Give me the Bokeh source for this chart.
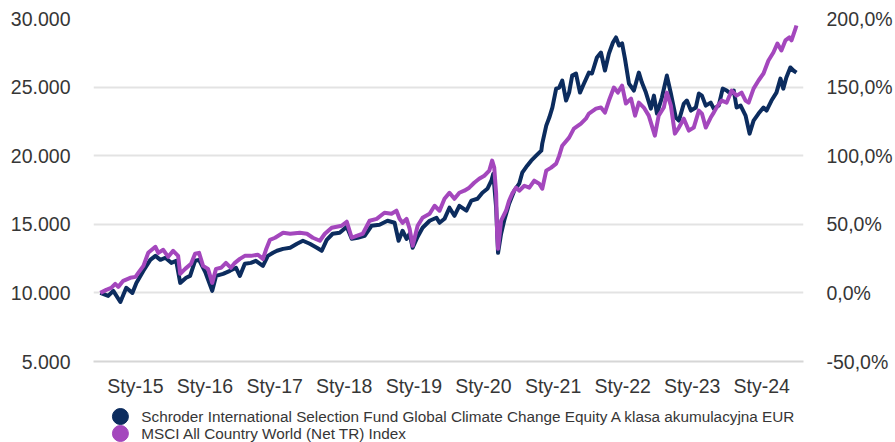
import pandas as pd
from bokeh.plotting import figure
from bokeh.layouts import column
from bokeh.models import Range1d, LinearAxis, FixedTicker
from bokeh.core.properties import value
from bokeh.embed import file_html
from bokeh.resources import INLINE

# ---------------- data ----------------
fund_name = "Schroder International Selection Fund Global Climate Change Equity A klasa akumulacyjna EUR"
index_name = "MSCI All Country World (Net TR) Index"

fund_dates = [
    "2014-07-01", "2014-08-11", "2014-09-07", "2014-10-14", "2014-11-14", "2014-12-16",
    "2015-01-06", "2015-02-12", "2015-03-20", "2015-04-16", "2015-05-12", "2015-06-07",
    "2015-07-08", "2015-08-03", "2015-08-24", "2015-09-24", "2015-10-15", "2015-11-10",
    "2015-12-01", "2016-01-02", "2016-02-08", "2016-02-28", "2016-04-05", "2016-05-11",
    "2016-06-12", "2016-07-02", "2016-07-28", "2016-08-29", "2016-09-24", "2016-10-31",
    "2016-11-26", "2016-12-23", "2017-01-13", "2017-02-14", "2017-03-23", "2017-04-28",
    "2017-05-29", "2017-07-04", "2017-08-10", "2017-09-05", "2017-10-01", "2017-11-01",
    "2017-12-08", "2018-01-14", "2018-02-09", "2018-03-12", "2018-04-18", "2018-05-24",
    "2018-07-05", "2018-08-16", "2018-09-22", "2018-10-13", "2018-11-03", "2018-11-24",
    "2018-12-10", "2018-12-26", "2019-01-21", "2019-02-16", "2019-03-25", "2019-04-30",
    "2019-05-16", "2019-06-11", "2019-07-07", "2019-08-02", "2019-08-28", "2019-10-04",
    "2019-10-30", "2019-12-01", "2019-12-27", "2020-01-22", "2020-02-12", "2020-02-22",
    "2020-03-08", "2020-03-18", "2020-04-03", "2020-04-19", "2020-05-15", "2020-06-11",
    "2020-07-07", "2020-07-23", "2020-08-18", "2020-09-08", "2020-10-04", "2020-10-31",
    "2020-11-05", "2020-11-26", "2020-12-12", "2020-12-28", "2021-01-17", "2021-02-02",
    "2021-02-18", "2021-03-10", "2021-03-26", "2021-04-11", "2021-05-01", "2021-05-22",
    "2021-06-12", "2021-07-08", "2021-07-24", "2021-08-19", "2021-09-09", "2021-09-30",
    "2021-10-21", "2021-11-11", "2021-11-27", "2021-12-13", "2021-12-29", "2022-01-13",
    "2022-02-03", "2022-03-01", "2022-03-27", "2022-04-12", "2022-05-03", "2022-05-29",
    "2022-06-14", "2022-06-30", "2022-07-26", "2022-08-21", "2022-09-11", "2022-10-07",
    "2022-10-23", "2022-11-18", "2022-12-04", "2022-12-25", "2023-01-20", "2023-02-05",
    "2023-02-21", "2023-03-13", "2023-04-08", "2023-04-24", "2023-05-20", "2023-06-10",
    "2023-07-01", "2023-07-22", "2023-08-07", "2023-08-22", "2023-09-12", "2023-10-08",
    "2023-10-29", "2023-11-19", "2023-12-15", "2024-01-10", "2024-01-26", "2024-02-21",
    "2024-03-18", "2024-04-08", "2024-04-23", "2024-05-09", "2024-05-30", "2024-06-15",
    "2024-07-01",
]
fund_values = [
    10000, 9780, 10150, 9340, 10370, 10000,
    10730, 11610, 12410, 12700, 12410, 12560,
    12190, 12340, 10730, 11100, 11240, 12340,
    12410, 11530, 10150, 11240, 11390, 11610,
    11830, 11240, 12120, 12190, 12340, 11970,
    12700, 12920, 13070, 13210, 13290, 13580,
    13800, 13580, 13290, 13070, 13870, 14310,
    14380, 14820, 13940, 14020, 14160, 14890,
    14970, 15260, 15110, 13800, 14530, 13940,
    14310, 13290, 14090, 14750, 15260, 15480,
    15110, 15400, 16210, 15620, 16350, 15990,
    16720, 16860, 17300, 17590, 18180, 18690,
    16210, 12920, 14310, 15260, 16500, 17450,
    17960, 18760, 19270, 19640, 20000, 20370,
    20880, 22190, 22780, 23510, 24890, 24970,
    25480, 24020, 24600, 25840, 25990, 24600,
    25260, 26060, 25990, 27160, 27520, 26210,
    27450, 28250, 28620, 28030, 28180, 27080,
    25260, 24750, 26060, 25330, 24600, 23430,
    24380, 23070, 24240, 25840, 24530, 22780,
    22560, 23800, 24020, 23290, 23510, 24530,
    24380, 23650, 23870, 23430, 23650, 24890,
    24750, 24530, 24750, 23510, 23650, 22920,
    21610, 22560, 23070, 23510, 23290, 24020,
    24600, 25620, 24890, 25700, 26430, 26210,
    26060,
]

index_dates = [
    "2014-07-01", "2014-08-01", "2014-08-27", "2014-09-17", "2014-10-03", "2014-10-29",
    "2014-12-05", "2015-01-01", "2015-01-16", "2015-02-12", "2015-03-09", "2015-04-16",
    "2015-05-01", "2015-05-27", "2015-06-22", "2015-07-18", "2015-08-13", "2015-08-24",
    "2015-09-19", "2015-10-20", "2015-11-10", "2015-12-01", "2015-12-22", "2016-01-17",
    "2016-02-08", "2016-02-28", "2016-03-25", "2016-04-20", "2016-05-16", "2016-06-06",
    "2016-07-02", "2016-07-28", "2016-08-29", "2016-10-05", "2016-10-31", "2016-11-16",
    "2016-12-07", "2017-01-03", "2017-02-14", "2017-03-23", "2017-05-13", "2017-06-19",
    "2017-07-20", "2017-08-26", "2017-09-21", "2017-10-27", "2017-11-22", "2017-12-18",
    "2018-01-14", "2018-02-09", "2018-03-07", "2018-04-08", "2018-05-14", "2018-06-20",
    "2018-07-31", "2018-09-06", "2018-10-02", "2018-10-18", "2018-11-03", "2018-11-24",
    "2018-12-10", "2018-12-26", "2019-01-21", "2019-02-16", "2019-03-25", "2019-04-20",
    "2019-05-16", "2019-06-11", "2019-07-07", "2019-08-02", "2019-08-28", "2019-09-23",
    "2019-10-19", "2019-11-14", "2019-12-10", "2020-01-06", "2020-02-01", "2020-02-16",
    "2020-02-27", "2020-03-08", "2020-03-13", "2020-03-18", "2020-04-03", "2020-04-29",
    "2020-05-15", "2020-05-31", "2020-06-21", "2020-07-07", "2020-08-03", "2020-08-29",
    "2020-09-24", "2020-10-20", "2020-11-05", "2020-11-26", "2020-12-22", "2021-01-17",
    "2021-02-02", "2021-02-18", "2021-03-26", "2021-04-20", "2021-05-27", "2021-06-22",
    "2021-07-08", "2021-08-14", "2021-09-09", "2021-09-30", "2021-10-21", "2021-11-16",
    "2021-12-07", "2021-12-29", "2022-01-18", "2022-02-14", "2022-03-07", "2022-03-27",
    "2022-04-22", "2022-05-18", "2022-06-19", "2022-07-09", "2022-08-05", "2022-08-21",
    "2022-09-11", "2022-10-02", "2022-10-23", "2022-11-18", "2022-12-14", "2023-01-09",
    "2023-02-05", "2023-02-21", "2023-03-13", "2023-04-08", "2023-04-24", "2023-05-15",
    "2023-06-05", "2023-07-01", "2023-07-27", "2023-08-22", "2023-09-17", "2023-10-08",
    "2023-10-24", "2023-11-19", "2023-12-15", "2024-01-10", "2024-02-05", "2024-03-02",
    "2024-03-23", "2024-04-13", "2024-05-04", "2024-05-25", "2024-06-05", "2024-06-26",
    "2024-07-01",
]
index_values = [
    10000, 10220, 10370, 10660, 10440, 10880,
    11100, 11170, 11460, 11970, 12920, 13360,
    12920, 13140, 12630, 13070, 12700, 11390,
    11750, 12120, 12850, 12920, 11970, 11750,
    10730, 11750, 11830, 12190, 11830, 12190,
    12480, 12700, 12700, 12780, 12480, 13140,
    13870, 14020, 14380, 14310, 14380, 14310,
    14020, 13800, 14310, 14750, 14820, 14890,
    15190, 14020, 14160, 14310, 15260, 15400,
    15840, 15770, 15990, 15400, 15110, 15400,
    14670, 13430, 14890, 15480, 15770, 16350,
    15990, 16860, 17300, 16860, 17300, 17450,
    17670, 18030, 18320, 18540, 18910, 19640,
    19130, 17230, 14310, 13210, 15260, 15990,
    16720, 17230, 17670, 17450, 17810, 17670,
    18180, 17960, 17590, 18910, 19130, 19420,
    20000, 20730, 21320, 21970, 22340, 22700,
    23070, 23430, 23510, 23140, 24020, 24970,
    24600, 25110, 23800, 24160, 22920, 23870,
    23510, 22920, 21460, 22920, 23510, 24600,
    23650, 21610, 22050, 22700, 21830, 22050,
    23290, 23070, 22050, 22780, 23140, 23650,
    24020, 23870, 24750, 24380, 24600, 24020,
    23870, 24890, 25480, 25990, 26940, 27520,
    28180, 27670, 28400, 28620, 28400, 29270,
    29490,
]

x_tick_dates = ["2015-01-01", "2016-01-01", "2017-01-01", "2018-01-01", "2019-01-01",
                "2020-01-01", "2021-01-01", "2022-01-01", "2023-01-01", "2024-01-01"]
x_tick_labels = ["Sty-15", "Sty-16", "Sty-17", "Sty-18", "Sty-19",
                 "Sty-20", "Sty-21", "Sty-22", "Sty-23", "Sty-24"]
left_ticks = [5000, 10000, 15000, 20000, 25000, 30000]
left_labels = ["5.000", "10.000", "15.000", "20.000", "25.000", "30.000"]
right_ticks = [-50, 0, 50, 100, 150, 200]
right_labels = ["-50,0%", "0,0%", "50,0%", "100,0%", "150,0%", "200,0%"]

# ---------------- styles ----------------
NAVY = "#0c2c5e"
PURPLE = "#a447bd"
TEXT = "#363636"
GRID = "#e3e3e3"
FONT = "Liberation Sans"

fd = pd.to_datetime(fund_dates)
idx = pd.to_datetime(index_dates)
x_start = pd.Timestamp("2014-05-26")
x_end = pd.Timestamp("2024-08-07")

W = 895
MAIN_H, LEG_H = 399, 43
BL, BR = 93, 90
p = figure(width=W, height=MAIN_H, x_axis_type="datetime",
           x_range=Range1d(x_start, x_end),
           y_range=Range1d(left_ticks[0], left_ticks[-1]),
           output_backend="svg", toolbar_location=None,
           min_border_left=BL, min_border_right=BR, min_border_top=18,
           min_border_bottom=38)
p.outline_line_color = None
p.background_fill_color = "white"
p.border_fill_color = "white"

p.extra_y_ranges = {"pct": Range1d(right_ticks[0], right_ticks[-1])}
raxis = LinearAxis(y_range_name="pct")
p.add_layout(raxis, "right")

p.line(fd, fund_values, line_color=NAVY, line_width=4, line_join="round")
p.line(idx, index_values, line_color=PURPLE, line_width=4, line_join="round")

# axes
xt = [int(pd.Timestamp(d).value // 10**6) for d in x_tick_dates]
p.xaxis.ticker = FixedTicker(ticks=xt)
p.xaxis.major_label_overrides = {t: l for t, l in zip(xt, x_tick_labels)}
p.yaxis[0].ticker = FixedTicker(ticks=left_ticks)
p.yaxis[0].major_label_overrides = {t: l for t, l in zip(left_ticks, left_labels)}
raxis.ticker = FixedTicker(ticks=right_ticks)
raxis.major_label_overrides = {t: l for t, l in zip(right_ticks, right_labels)}

for ax in [p.xaxis[0], p.yaxis[0], raxis]:
    ax.major_tick_line_color = None
    ax.minor_tick_line_color = None
    ax.major_tick_out = 0
    ax.major_tick_in = 0
    ax.minor_tick_out = 0
    ax.minor_tick_in = 0
    ax.major_label_text_font = FONT
    ax.major_label_text_font_size = "19.5px"
    ax.major_label_text_color = TEXT
p.yaxis[0].axis_line_color = None
raxis.axis_line_color = None
p.yaxis[0].major_label_standoff = 23
raxis.major_label_standoff = 23
p.xaxis.axis_line_color = "#d6d6d6"
p.xaxis.axis_line_width = 2
p.xaxis.major_label_standoff = 13

p.xgrid.grid_line_color = None
p.ygrid.grid_line_color = GRID
p.ygrid.grid_line_width = 2
p.ygrid.ticker = FixedTicker(ticks=left_ticks)

# legend strip (coordinates in pixels of the strip, frame aligned with main frame)
lg = figure(width=W, height=LEG_H, x_range=Range1d(BL, W - BR), y_range=Range1d(LEG_H, 0),
            output_backend="svg", toolbar_location=None,
            x_axis_location=None, y_axis_location=None,
            min_border_left=BL, min_border_right=BR,
            min_border_top=0, min_border_bottom=0)
lg.outline_line_color = None
lg.xgrid.visible = False
lg.ygrid.visible = False
names = [fund_name, index_name]
colors = [NAVY, PURPLE]
rows = [17, 34]
lg.scatter(x=[120, 120], y=rows, size=16, fill_color=colors, line_color=colors)
lg.text(x=[141, 141], y=rows, text=names, text_baseline="middle",
        text_font=value(FONT), text_font_size="15.3px", text_color=TEXT)

layout = column(p, lg, spacing=0)
open("out.html", "w").write(file_html(layout, INLINE))
